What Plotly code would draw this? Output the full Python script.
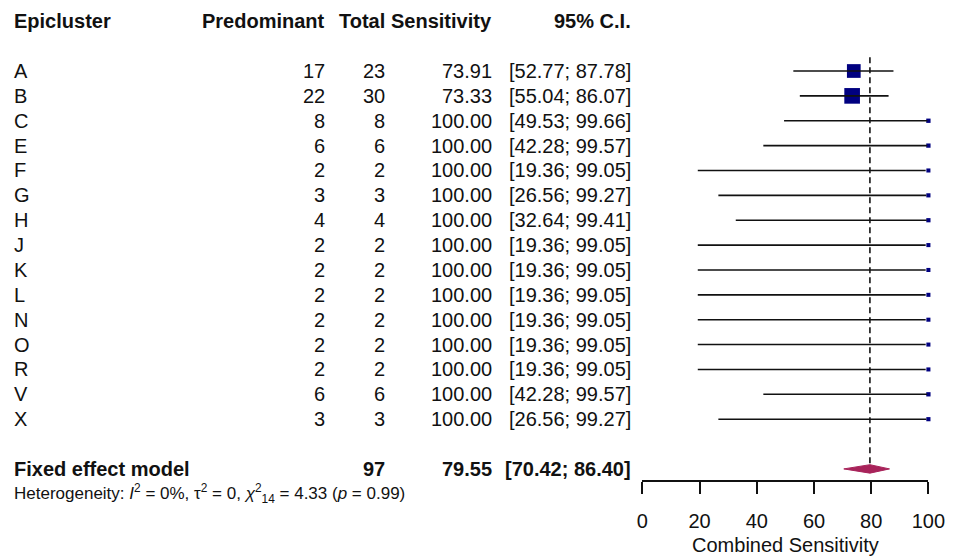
import math
import plotly.graph_objects as go

# ---------------- data ----------------
clusters = ["A", "B", "C", "E", "F", "G", "H", "J", "K", "L", "N", "O", "R", "V", "X"]
predominant = [17, 22, 8, 6, 2, 3, 4, 2, 2, 2, 2, 2, 2, 6, 3]
total = [23, 30, 8, 6, 2, 3, 4, 2, 2, 2, 2, 2, 2, 6, 3]
sensitivity = [73.91, 73.33, 100.00, 100.00, 100.00, 100.00, 100.00, 100.00,
               100.00, 100.00, 100.00, 100.00, 100.00, 100.00, 100.00]
ci_low = [52.77, 55.04, 49.53, 42.28, 19.36, 26.56, 32.64, 19.36,
          19.36, 19.36, 19.36, 19.36, 19.36, 42.28, 26.56]
ci_high = [87.78, 86.07, 99.66, 99.57, 99.05, 99.27, 99.41, 99.05,
           99.05, 99.05, 99.05, 99.05, 99.05, 99.57, 99.27]

pooled_label = "Fixed effect model"
pooled_total = 97
pooled_est = 79.55
pooled_low = 70.42
pooled_high = 86.40

headers = ["Epicluster", "Predominant", "Total", "Sensitivity", "95% C.I."]
tick_values = [0, 20, 40, 60, 80, 100]
axis_title = "Combined Sensitivity"
heterogeneity = ("Heterogeneity: <i>I</i><sup>2</sup> = 0%, τ<sup>2</sup> = 0, "
                 "<i>χ</i><sup>2</sup><sub>14</sub> = 4.33 (<i>p</i> = 0.99)")

# ---------------- layout constants ----------------
W, H = 962, 556
FONT = "Liberation Sans, Arial, sans-serif"
TXT = "#111111"
SQ = "#000080"
DIAMOND = "#A8235A"

rows = list(range(len(clusters)))
header_row = -2
pooled_row = len(clusters) + 1
het_row = pooled_row + 1

# study weights (inverse variance on logit scale, 0.5 correction) -> square size
weights = [1.0 / (1.0 / (x + 0.5) + 1.0 / (n - x + 0.5)) for x, n in zip(predominant, total)]
sizes = [6.3 * math.sqrt(w) for w in weights]

fig = go.Figure()

# squares
fig.add_trace(go.Scatter(
    x=sensitivity, y=rows, mode="markers", opacity=1,
    marker=dict(symbol="square", size=sizes, color=SQ, opacity=1, line=dict(width=0)),
    cliponaxis=False, hoverinfo="skip"))

# CI lines
lx, ly = [], []
for r, lo, hi in zip(rows, ci_low, ci_high):
    lx += [lo, hi, None]
    ly += [r, r, None]
fig.add_trace(go.Scatter(x=lx, y=ly, mode="lines",
                         line=dict(color="#111111", width=1.6),
                         cliponaxis=False, hoverinfo="skip"))

# dashed pooled line
fig.add_trace(go.Scatter(x=[pooled_est, pooled_est], y=[-0.55, pooled_row], mode="lines",
                         line=dict(color="#111111", width=1.6, dash="6px,4px"),
                         cliponaxis=False, hoverinfo="skip"))

# diamond
dh = 0.17
fig.add_trace(go.Scatter(
    x=[pooled_low, pooled_est, pooled_high, pooled_est, pooled_low],
    y=[pooled_row, pooled_row - dh, pooled_row, pooled_row + dh, pooled_row],
    mode="lines", fill="toself", fillcolor=DIAMOND,
    line=dict(color=DIAMOND, width=1), cliponaxis=False, hoverinfo="skip"))

# ---------------- table text ----------------
col_x = {
    "label": 6 / W,
    "pred": 329 / W,
    "total": 390 / W,
    "sens": 500 / W,
    "ci": 642 / W,
}
ann = []


def add(text, x, y, anchor, size=20, bold=False):
    if bold:
        text = "<b>" + text + "</b>"
    ann.append(dict(text=text, x=x, y=y, xref="paper", yref="y",
                    xanchor=anchor, yanchor="middle", showarrow=False,
                    font=dict(family=FONT, size=size, color=TXT)))


add(headers[0], col_x["label"], header_row, "left", bold=True)
add(headers[1], col_x["pred"], header_row, "right", bold=True)
add(headers[2], col_x["total"], header_row, "right", bold=True)
add(headers[3], col_x["sens"], header_row, "right", bold=True)
add(headers[4], col_x["ci"], header_row, "right", bold=True)

for r, c, p, t, s, lo, hi in zip(rows, clusters, predominant, total, sensitivity, ci_low, ci_high):
    add(c, col_x["label"], r, "left")
    add(str(p), col_x["pred"], r, "right")
    add(str(t), col_x["total"], r, "right")
    add(f"{s:.2f}", col_x["sens"], r, "right")
    add(f"[{lo:.2f}; {hi:.2f}]", col_x["ci"], r, "right")

add(pooled_label, col_x["label"], pooled_row, "left", bold=True)
add(str(pooled_total), col_x["total"], pooled_row, "right", bold=True)
add(f"{pooled_est:.2f}", col_x["sens"], pooled_row, "right", bold=True)
add(f"[{pooled_low:.2f}; {pooled_high:.2f}]", col_x["ci"], pooled_row, "right", bold=True)
add(heterogeneity, col_x["label"], het_row, "left", size=17)

fig.update_layout(
    width=W, height=H,
    margin=dict(l=0, r=0, t=0, b=0),
    paper_bgcolor="white", plot_bgcolor="white",
    showlegend=False,
    annotations=ann,
    xaxis=dict(
        domain=[652 / W, 945 / W], range=[0, 100],
        anchor="free", position=(H - 481) / H,
        showline=True, linecolor="#111111", linewidth=1.6,
        ticks="outside", ticklen=12, tickwidth=1.6, tickcolor="#111111",
        tickvals=tick_values, showgrid=False, zeroline=False,
        ticklabelstandoff=10, ticklabeloverflow="allow",
        tickfont=dict(family=FONT, size=20, color=TXT),
        title=dict(text=axis_title, font=dict(family=FONT, size=20, color=TXT), standoff=7),
        fixedrange=True,
    ),
    yaxis=dict(domain=[0, 1], range=[(H - 71) / 24.87, -71 / 24.87],
               visible=False, fixedrange=True),
)

post = ("document.body.style.margin='0';"
        "var gd=document.getElementById('{plot_id}');"
        "var wrap=gd.parentElement;"
        "wrap.style.width='962px';wrap.style.height='556px';wrap.style.overflow='hidden';"
        "gd.style.overflow='hidden';"
        "document.body.style.overflow='hidden';"
        "document.documentElement.style.overflow='hidden';")
fig.write_html("out.html", post_script=post, config={"displayModeBar": False})
